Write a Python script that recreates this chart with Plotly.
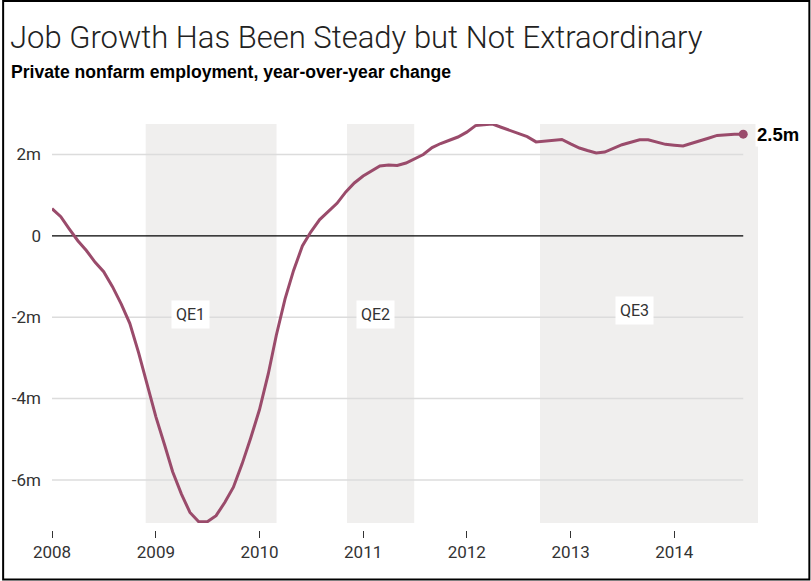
import pandas as pd
import plotly.graph_objects as go

# ---- data ----
start_month = "2008-01-01"
jobs_change_m = [
    0.67, 0.47, 0.18, -0.12, -0.36, -0.65, -0.88, -1.25, -1.68, -2.15, -2.87, -3.63,
    -4.45, -5.15, -5.80, -6.35, -6.80, -7.03, -7.03, -6.88, -6.55, -6.18, -5.60, -4.97,
    -4.27, -3.39, -2.45, -1.55, -0.85, -0.25, 0.10, 0.40, 0.60, 0.80, 1.08, 1.30,
    1.47, 1.60, 1.72, 1.74, 1.73, 1.79, 1.90, 2.00, 2.17, 2.27, 2.35, 2.43,
    2.55, 2.71, 2.73, 2.75, 2.67, 2.59, 2.52, 2.44, 2.31, 2.33, 2.35, 2.37,
    2.26, 2.16, 2.10, 2.04, 2.06, 2.16, 2.24, 2.30, 2.36, 2.36, 2.31, 2.25,
    2.23, 2.21, 2.27, 2.33, 2.40, 2.47, 2.49, 2.50, 2.50,
]
qe_names = ["QE1", "QE2", "QE3"]
qe_starts = ["2008-11-26", "2010-11-05", "2012-09-15"]
qe_ends = ["2010-03-02", "2011-06-30", "2014-10-23"]
year_ticks = [2008, 2009, 2010, 2011, 2012, 2013, 2014]
y_ticks = [-6, -4, -2, 0, 2]
y_ticktext = ["-6m", "-4m", "-2m", "0", "2m"]

dates = pd.date_range(start_month, periods=len(jobs_change_m), freq="MS")

# ---- layout geometry (pixels) ----
W, H = 811, 581
ML, MR, MT, MB = 50, 53, 124, 51
PW, PH = W - ML - MR, H - MT - MB
GAP = 7  # gap between plot bottom and x ticks


def px_x(px):
    return (px - ML) / PW


def px_y(py):
    return (H - MB - py) / PH


LINE_COLOR = "#9a4b6b"
BAND_COLOR = "#f0efee"
TEXT_COLOR = "#333333"
FONT = "Roboto"

fig = go.Figure()

fig.add_trace(go.Scatter(
    x=dates, y=jobs_change_m, mode="lines",
    line=dict(color=LINE_COLOR, width=3), hoverinfo="skip", showlegend=False,
))
fig.add_trace(go.Scatter(
    x=[dates[-1]], y=[jobs_change_m[-1]], mode="markers",
    marker=dict(color=LINE_COLOR, size=9), hoverinfo="skip", showlegend=False,
    cliponaxis=False,
))

shapes = []
# QE bands
for s, e in zip(qe_starts, qe_ends):
    shapes.append(dict(type="rect", xref="x", yref="y domain", x0=s, x1=e, y0=0, y1=1,
                       fillcolor=BAND_COLOR, line=dict(width=0), layer="below"))
# gridlines spanning the data
for v in y_ticks:
    if v == 0:
        continue
    shapes.append(dict(type="line", xref="x", yref="y", x0=dates[0], x1=dates[-1], y0=v, y1=v,
                       line=dict(color="#dcdcdc", width=1.5), layer="below"))
shapes.append(dict(type="line", xref="x", yref="y", x0=dates[0], x1=dates[-1], y0=0, y1=0,
                   line=dict(color="#000000", width=1.3), layer="below"))
# outer frame
shapes.append(dict(type="rect", xref="paper", yref="paper",
                   x0=px_x(1), x1=px_x(809.5), y0=px_y(579.5), y1=px_y(1),
                   line=dict(color="#000000", width=2), fillcolor="rgba(0,0,0,0)", layer="above"))

annotations = [
    dict(text="Job Growth Has Been Steady but Not Extraordinary", xref="paper", yref="paper",
         x=px_x(6), y=px_y(37), xanchor="left", yanchor="middle", showarrow=False,
         font=dict(family=FONT, size=31, color="#222222", weight=300)),
    dict(text="<b>Private nonfarm employment, year-over-year change</b>", xref="paper", yref="paper",
         x=px_x(7), y=px_y(72), xanchor="left", yanchor="middle", showarrow=False,
         font=dict(family="Liberation Sans", size=17.6, color="#000000")),
    dict(text="<b>%.1fm</b>" % jobs_change_m[-1], x=dates[-1], y=jobs_change_m[-1],
         xanchor="left", yanchor="middle", xshift=12, showarrow=False, bgcolor="#ffffff",
         font=dict(family="Liberation Sans", size=18.5, color="#000000")),
]
qe_label_x = ["2009-05-03", "2011-02-12", "2013-08-14"]
qe_label_y = [-1.94, -1.94, -1.84]
for name, lx, ly in zip(qe_names, qe_label_x, qe_label_y):
    annotations.append(dict(text=name, x=lx, y=ly, showarrow=False, bgcolor="#ffffff",
                            borderpad=4, font=dict(family=FONT, size=16, color=TEXT_COLOR)))

fig.update_layout(
    width=W, height=H,
    margin=dict(l=ML, r=MR, t=MT, b=MB, pad=0),
    paper_bgcolor="#ffffff", plot_bgcolor="rgba(0,0,0,0)",
    showlegend=False,
    shapes=shapes, annotations=annotations,
    xaxis=dict(
        type="date", range=[dates[0], qe_ends[-1]],
        tickvals=[f"{y}-01-01" for y in year_ticks], ticktext=[str(y) for y in year_ticks],
        ticks="outside", ticklen=7, tickwidth=1, tickcolor="#333333",
        showgrid=False, zeroline=False, showline=False,
        anchor="free", position=0,
        tickfont=dict(family=FONT, size=17, color=TEXT_COLOR),
    ),
    yaxis=dict(
        range=[-7.06, 2.75], domain=[GAP / PH, 1],
        tickvals=y_ticks, ticktext=y_ticktext,
        showgrid=False, zeroline=False, showline=False, ticks="",
        ticklabelstandoff=10,
        tickfont=dict(family=FONT, size=17, color=TEXT_COLOR),
    ),
)

fig.write_html(
    "out.html",
    config={"displayModeBar": False},
    post_script="document.body.style.margin='0';document.body.style.overflow='hidden';",
)
